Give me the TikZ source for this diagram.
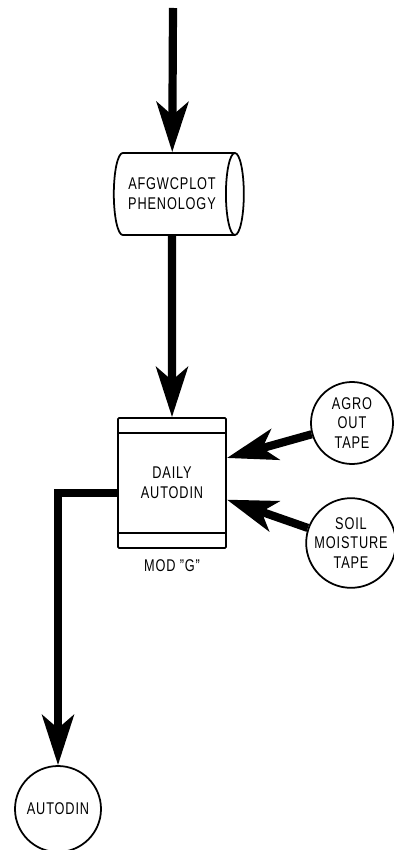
\documentclass[tikz,border=0pt]{standalone}
\usepackage{fontspec}
\setmainfont[FakeStretch=0.75, LetterSpace=5]{Liberation Sans}
\usetikzlibrary{shapes.geometric, arrows.meta, positioning}

\begin{document}
\begin{tikzpicture}[
          x=0.03cm, y=-0.03cm,
          txt/.style={align=center, font=\fontsize{14.5}{17}\selectfont},
          store/.style={draw, cylinder, aspect=0.45, minimum width=2.46cm, minimum height=3.9cm, line width=1.5pt, txt},
          module/.style={draw, rectangle, rounded corners=1pt, minimum width=3.24cm, minimum height=3.9cm, line width=1.5pt, txt,
            path picture={
              \draw[line width=1.5pt] ([yshift=-0.45cm]path picture bounding box.north west) -- ([yshift=-0.45cm]path picture bounding box.north east);
              \draw[line width=1.5pt] ([yshift=0.45cm]path picture bounding box.south west) -- ([yshift=0.45cm]path picture bounding box.south east);
            }},
          tape/.style={draw, circle, minimum size=2.46cm, inner sep=0pt, line width=1.5pt, txt},
          flow/.style={line width=7pt, -{Stealth[length=1.5cm, width=0.95cm, inset=0.4cm]}}
        ]
          \useasboundingbox (0,0) rectangle (393,850);

          % ノードの配置
          \coordinate (in) at (173,8);
          \node[store] (phen) at (172,194) {AFGWCPLOT\\PHENOLOGY};
          \node[module] (daily) at (172,483) {DAILY\\AUTODIN};
          \node[txt] (mod) [below=2mm of daily] {MOD "G"};
          \node[tape] (agro) at (352,423) {AGRO\\OUT\\TAPE};
          \node[tape] (soil) at (351,543) {SOIL\\MOISTURE\\TAPE};
          \node[tape, minimum size=2.58cm] (autodin) at (58,809) {AUTODIN};

          % データの流れ
          \draw[flow] (in) -- (phen);
          \draw[flow] (phen) -- (daily);
          \draw[flow] (agro) -- ([yshift=0.75cm]daily.east);
          \draw[flow] (soil) -- ([yshift=-0.5cm]daily.east);
          \draw[flow] ([yshift=-0.3cm]daily.west) -| (autodin);
        \end{tikzpicture}
\end{document}
